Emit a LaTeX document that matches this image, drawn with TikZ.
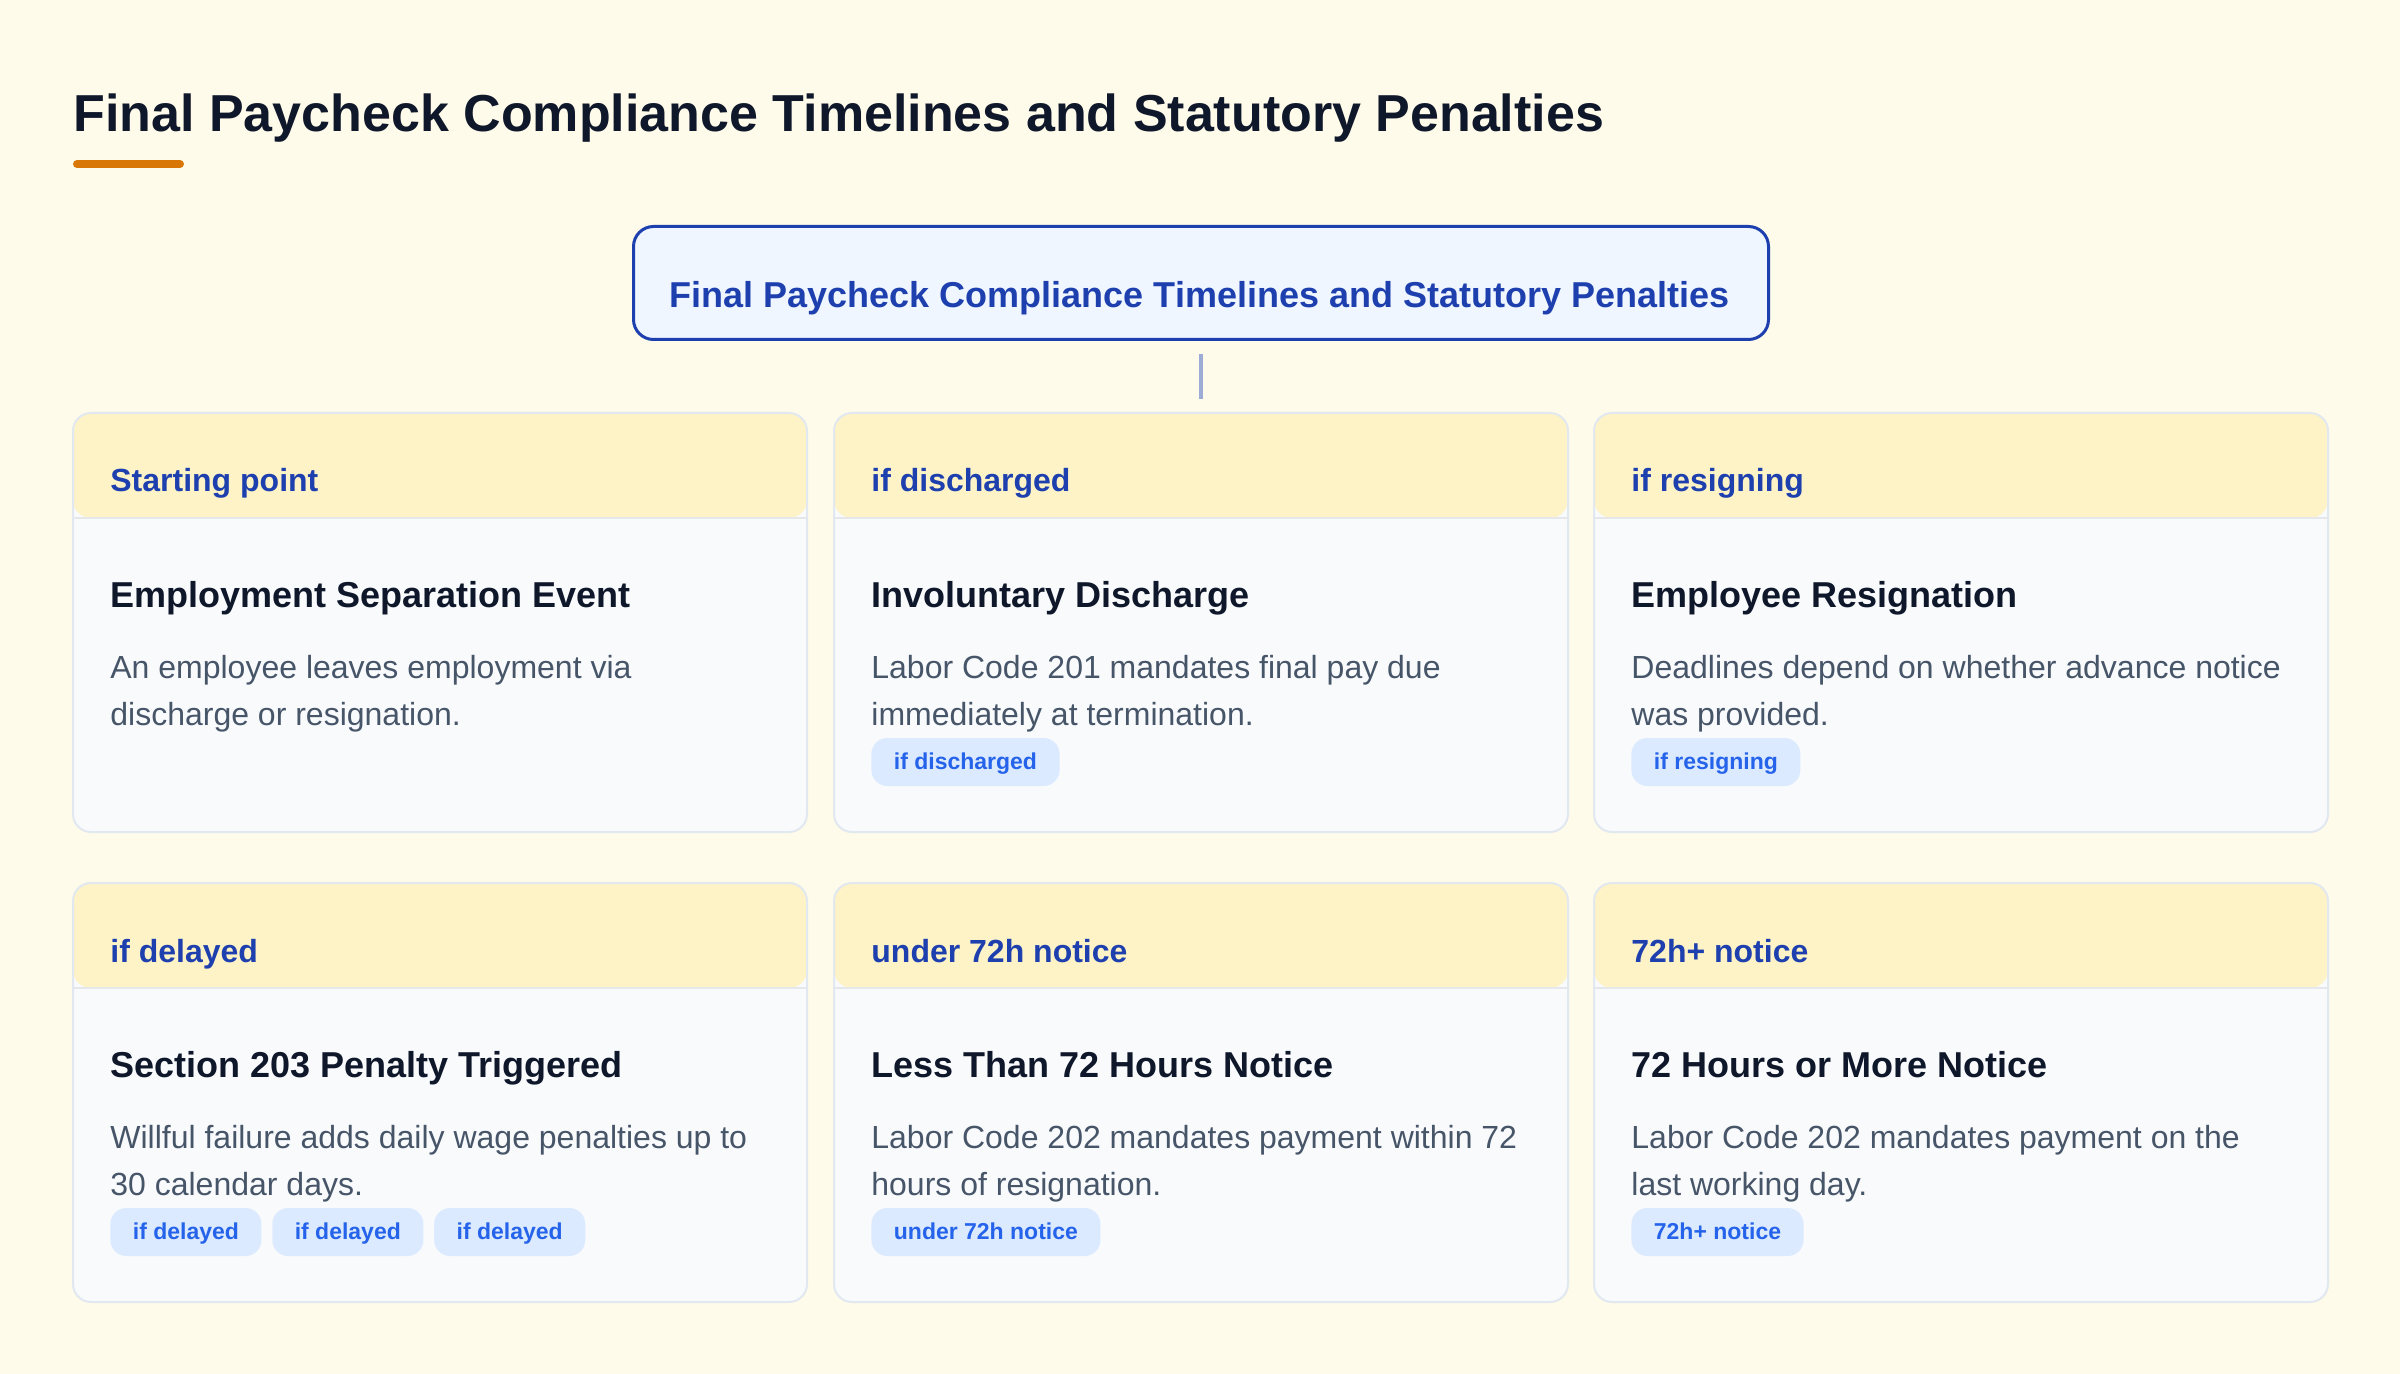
\documentclass[tikz,border=0pt]{standalone}
\usepackage{fontspec}
\setmainfont{Liberation Sans}
\definecolor{bg}{HTML}{FEFBEA}
\definecolor{hdr}{HTML}{FEF3C7}
\definecolor{cardbody}{HTML}{F8FAFC}
\definecolor{cardline}{HTML}{E2E8F0}
\definecolor{divline}{HTML}{E5E7EB}
\definecolor{navy}{HTML}{1E40AF}
\definecolor{ink}{HTML}{0F172A}
\definecolor{bodytext}{HTML}{475569}
\definecolor{pillfill}{HTML}{DBEAFE}
\definecolor{pilltext}{HTML}{2563EB}
\definecolor{accent}{HTML}{D97706}
\definecolor{mainfill}{HTML}{EFF6FF}
\definecolor{conn}{HTML}{9DACD6}
\tikzset{
  cardframe/.style={draw=cardline, line width=1pt, fill=cardbody, rounded corners=9pt,
    minimum width=367pt, minimum height=209.5pt, inner sep=0pt, anchor=north west,
    path picture={\fill[hdr] (path picture bounding box.north west) rectangle ([yshift=-52.5pt]path picture bounding box.north east);
      \draw[divline, line width=1pt] ([yshift=-52.5pt]path picture bounding box.north west) -- ([yshift=-52.5pt]path picture bounding box.north east);}},
  hdrlabel/.style={anchor=base west, inner sep=0pt, text=navy, font=\bfseries\fontsize{16pt}{19pt}\selectfont},
  cardtitle/.style={anchor=base west, inner sep=0pt, text=ink, font=\bfseries\fontsize{18pt}{21pt}\selectfont},
  bodyline/.style={anchor=base west, inner sep=0pt, text=bodytext, font=\fontsize{16pt}{19pt}\selectfont},
  pill/.style={fill=pillfill, text=pilltext, rounded corners=8pt, inner xsep=11.25pt, inner ysep=0pt,
    text height=8.4pt, text depth=1pt,
    minimum height=24pt, anchor=west, font=\bfseries\fontsize{11.5pt}{14pt}\selectfont},
  mainbox/.style={draw=navy, line width=1.5pt, fill=mainfill, rounded corners=10pt,
    minimum width=567.5pt, minimum height=56.5pt, anchor=north west, inner sep=0pt},
  connector/.style={draw=conn, line width=2pt}
}
\newcommand{\pcard}[7]{%
  \node[cardframe] (#1) at (#2,#3) {};
  \node[hdrlabel] (#1h) at ([xshift=19pt,yshift=-40pt]#1.north west) {#4};
  \node[cardtitle] (#1t) at ([xshift=19pt,yshift=-97.5pt]#1.north west) {#5};
  \node[bodyline] (#1a) at ([xshift=19pt,yshift=-133pt]#1.north west) {#6};
  \node[bodyline] (#1b) at ([xshift=19pt,yshift=-156.5pt]#1.north west) {#7};
}
\begin{document}
\begin{tikzpicture}[x=0.5pt,y=-0.5pt]
\fill[bg] (0,0) rectangle (2400,1374);
\useasboundingbox (0,0) rectangle (2400,1374);

\node[anchor=base west, inner sep=0pt, text=ink, font=\bfseries\fontsize{26pt}{30pt}\selectfont] (title) at (73,132) {Final Paycheck Compliance Timelines and Statutory Penalties};
\coordinate (barL) at (77,164);
\coordinate (barR) at (180,164);
\draw[accent, line width=4pt, line cap=round] (barL) -- (barR);

\node[mainbox] (main) at (632,225) {};
\node[anchor=base, inner sep=0pt, text=navy, font=\bfseries\fontsize{18pt}{21pt}\selectfont] (maintext) at (1199.5,308) {Final Paycheck Compliance Timelines and Statutory Penalties};

\pcard{c1}{72}{412}{Starting point}{Employment Separation Event}{An employee leaves employment via}{discharge or resignation.}
\pcard{c2}{833}{412}{if discharged}{Involuntary Discharge}{Labor Code 201 mandates final pay due}{immediately at termination.}
\pcard{c3}{1593}{412}{if resigning}{Employee Resignation}{Deadlines depend on whether advance notice}{was provided.}
\pcard{c4}{72}{882}{if delayed}{Section 203 Penalty Triggered}{Willful failure adds daily wage penalties up to}{30 calendar days.}
\pcard{c5}{833}{882}{under 72h notice}{Less Than 72 Hours Notice}{Labor Code 202 mandates payment within 72}{hours of resignation.}
\pcard{c6}{1593}{882}{72h+ notice}{72 Hours or More Notice}{Labor Code 202 mandates payment on the}{last working day.}

\node[pill] (p2) at ([xshift=19pt,yshift=-175pt]c2.north west) {if discharged};
\node[pill] (p3) at ([xshift=19pt,yshift=-175pt]c3.north west) {if resigning};
\node[pill] (p4a) at ([xshift=19pt,yshift=-175pt]c4.north west) {if delayed};
\node[pill] (p4b) at ([xshift=5pt]p4a.east) {if delayed};
\node[pill] (p4c) at ([xshift=5pt]p4b.east) {if delayed};
\node[pill] (p5) at ([xshift=19pt,yshift=-175pt]c5.north west) {under 72h notice};
\node[pill] (p6) at ([xshift=19pt,yshift=-175pt]c6.north west) {72h+ notice};

\draw[connector] ([yshift=-6.5pt]main.south) -- ([yshift=6.5pt]c2.north);
\end{tikzpicture}
\end{document}
